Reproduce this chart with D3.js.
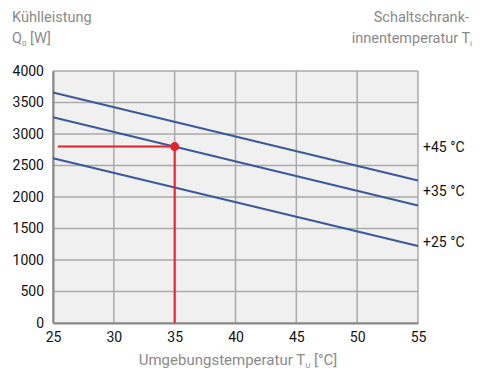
<!DOCTYPE html>
<html><head><meta charset="utf-8">
<script src="https://cdn.jsdelivr.net/npm/d3@7"></script>
<style>body{margin:0;background:#fff;} text{font-family:Roboto,"Liberation Sans",sans-serif;}</style>
</head><body>
<svg id="c" width="487" height="385"></svg>
<script>
const xTicks = [25,30,35,40,45,50,55];
const yTicks = [0,500,1000,1500,2000,2500,3000,3500,4000];
const seriesNames = ["+45 °C","+35 °C","+25 °C"];
const seriesX = [25,55];
const series45 = [3660,2262];
const series35 = [3265,1865];
const series25 = [2614,1222];
const opPoint = [35,2800];
const labelY = [2790,2090,1290];

const svg = d3.select("#c");
const x = d3.scaleLinear().domain([25,55]).range([53,418]);
const y = d3.scaleLinear().domain([0,4000]).range([323,71]);

svg.append("rect").attr("x",x(25)).attr("y",y(4000)).attr("width",x(55)-x(25)).attr("height",y(0)-y(4000)).attr("fill","#f0f0f0");

// grid
svg.append("g").selectAll("line").data(yTicks).join("line")
 .attr("x1",x(25)).attr("x2",x(55)).attr("y1",d=>y(d)).attr("y2",d=>y(d))
 .attr("stroke","#aaa").attr("stroke-width",1.5);
svg.append("g").selectAll("line").data(xTicks).join("line")
 .attr("y1",y(0)).attr("y2",y(4000)).attr("x1",d=>x(d)).attr("x2",d=>x(d))
 .attr("stroke","#aaa").attr("stroke-width",1.5);

// axes
const xa = svg.append("g").attr("transform",`translate(0,${y(0)})`).call(d3.axisBottom(x).tickValues(xTicks).tickFormat(d3.format("d")).tickSize(0).tickPadding(9));
xa.select(".domain").attr("stroke","#888").attr("stroke-width",2);
xa.selectAll("text").attr("font-size",14).attr("fill","#111");
const ya = svg.append("g").attr("transform",`translate(${x(25)},0)`).call(d3.axisLeft(y).tickValues(yTicks).tickFormat(d3.format("d")).tickSize(0).tickPadding(9));
ya.select(".domain").attr("stroke","#888").attr("stroke-width",2);
ya.selectAll("text").attr("font-size",14).attr("fill","#111");

// series
const line = d3.line().x(d=>x(d[0])).y(d=>y(d[1]));
[series45,series35,series25].forEach(s=>{
  svg.append("path").attr("d",line(seriesX.map((v,i)=>[v,s[i]]))).attr("fill","none").attr("stroke","#3b5998").attr("stroke-width",2);
});

// red operating point
svg.append("line").attr("x1",x(25.4)).attr("x2",x(opPoint[0])).attr("y1",y(opPoint[1])).attr("y2",y(opPoint[1])).attr("stroke","#e3202c").attr("stroke-width",2);
svg.append("line").attr("x1",x(opPoint[0])).attr("x2",x(opPoint[0])).attr("y1",y(opPoint[1])).attr("y2",y(0)).attr("stroke","#e3202c").attr("stroke-width",2);
svg.append("circle").attr("cx",x(opPoint[0])).attr("cy",y(opPoint[1])).attr("r",4.5).attr("fill","#e3202c");

// series labels
svg.append("g").selectAll("text").data(seriesNames).join("text")
 .attr("x",x(55)+5).attr("y",(d,i)=>y(labelY[i])).attr("dy","0.35em")
 .attr("font-size",14).attr("fill","#111").text(d=>d);

// titles
const g="#8a8a8a", fs=14.5;
svg.append("text").attr("x",12).attr("y",22).attr("font-size",fs).attr("fill",g).text("Kühlleistung");
const q=svg.append("text").attr("x",12).attr("y",43).attr("font-size",fs).attr("fill",g);
q.append("tspan").text("Q");
q.append("tspan").attr("font-size",8).attr("dy",3).text("0");
q.append("tspan").attr("dy",-3).text(" [W]");

svg.append("text").attr("x",469).attr("y",22).attr("text-anchor","end").attr("font-size",fs).attr("fill",g).text("Schaltschrank-");
const t=svg.append("text").attr("x",472).attr("y",43).attr("text-anchor","end").attr("font-size",fs).attr("fill",g);
t.append("tspan").text("innentemperatur T");
t.append("tspan").attr("font-size",8).attr("dy",3).text("i");

const xt=svg.append("text").attr("x",238).attr("y",365).attr("text-anchor","middle").attr("font-size",15).attr("fill",g);
xt.append("tspan").text("Umgebungstemperatur T");
xt.append("tspan").attr("font-size",8).attr("dy",3).text("U");
xt.append("tspan").attr("dy",-3).text(" [°C]");
</script>
</body></html>
